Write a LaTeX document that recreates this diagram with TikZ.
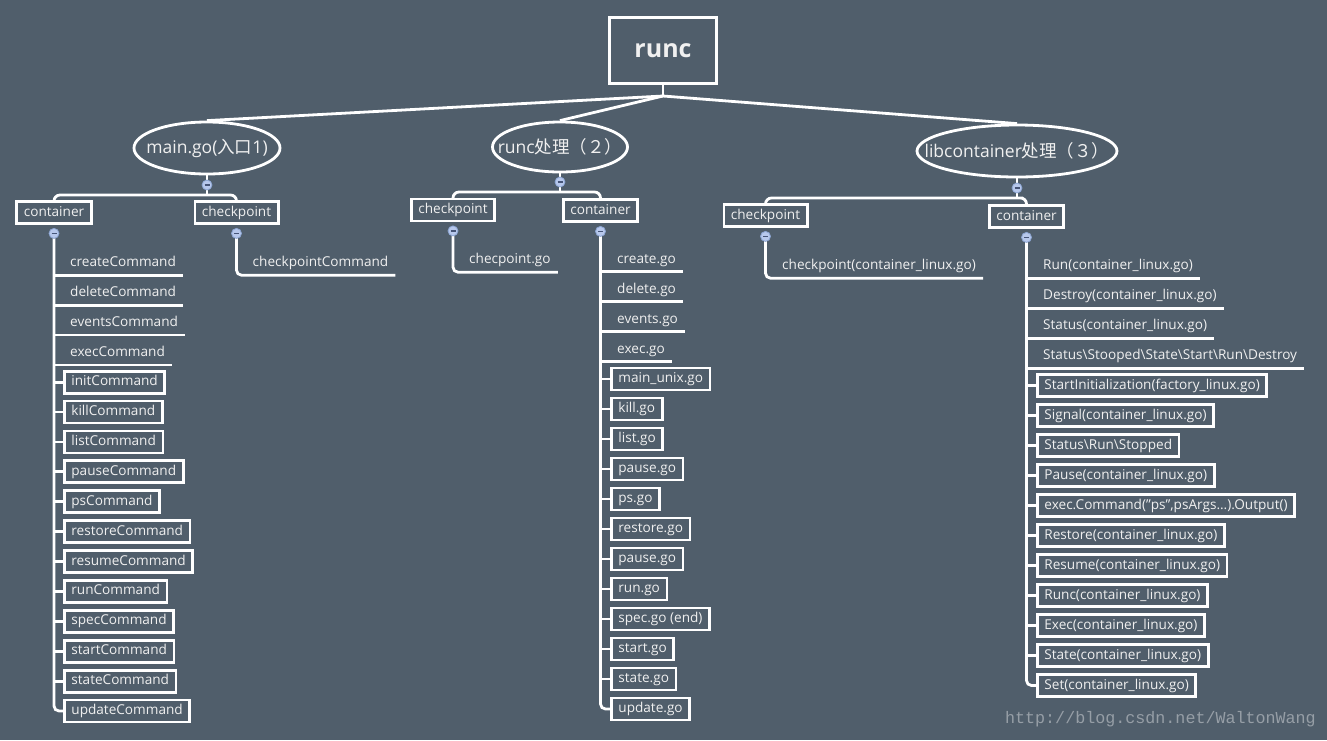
\documentclass[tikz,border=0pt]{standalone}
\usepackage{fontspec}
\setmainfont{Open Sans}
\newfontfamily\cjk{Noto Sans CJK SC}
\newfontfamily\wmfont{Liberation Mono}
\usetikzlibrary{shapes.geometric}
\definecolor{bg}{RGB}{80,94,107}
\definecolor{mfill}{RGB}{183,200,236}
\definecolor{mdraw}{RGB}{140,165,210}
\definecolor{mminus}{RGB}{70,85,120}
\definecolor{txt}{RGB}{240,240,240}
\definecolor{wm}{RGB}{150,158,166}
\newcommand\mydots{.{}.{}.}
\newcommand\dq{{\char34}}
\begin{document}
\begin{tikzpicture}[x=1pt,y=-1pt,
 conn/.style={draw=white, line width=2.8pt},
 itemfont/.style={font=\fontsize{13.6}{16}\selectfont, text=txt, text height=10pt, text depth=3pt},
 boxitem/.style={itemfont, draw=white, line width=2.8pt, inner xsep=7pt, inner ysep=4.5pt, anchor=west},
 ulitem/.style={itemfont, inner xsep=7pt, inner ysep=5.5pt, anchor=west},
 topic/.style={boxitem, anchor=center},
 ell/.style={ellipse, draw=white, line width=2.8pt, inner sep=0pt, text=txt, font=\fontsize{17.5}{20}\selectfont},
 marker/.style={circle, fill=mfill, draw=mdraw, line width=0.8pt, minimum size=10pt, inner sep=0pt,
   path picture={\draw[mminus, line width=1.3pt] ([xshift=-2.5pt]path picture bounding box.center) -- ([xshift=2.5pt]path picture bounding box.center);}},
]
\fill[bg] (0,0) rectangle (1327,740);
\useasboundingbox (0,0) rectangle (1327,740);

% root
\node[draw=white, line width=2.8pt, minimum width=107pt, minimum height=66pt, text=txt,
      font=\bfseries\fontsize{25}{28}\selectfont] (root) at (663,50.5) {runc};
\coordinate (rh) at (663,96);

% main topics
\node[ell, minimum width=146pt, minimum height=52pt] (e1) at (207,148) {\makebox[0pt]{main.go({\cjk 入口}1)}};
\node[ell, minimum width=135pt, minimum height=50pt] (e2) at (560,147) {\makebox[0pt]{runc{\cjk 处理（２）}}};
\node[ell, minimum width=200pt, minimum height=52pt] (e3) at (1017,151) {\makebox[0pt]{libcontainer{\cjk 处理（３）}}};

\draw[conn] (root.south) -- (rh);
\draw[conn] (rh) -- (e1.north);
\draw[conn] (rh) -- (e2.north);
\draw[conn] (rh) -- (e3.north);

\coordinate (h1) at (207,195);
\coordinate (h2) at (560,192);
\coordinate (h3) at (1017,198);

% sub topics
\node[topic] (L1c) at (54,212.5) {container};
\node[topic] (L1k) at (236.5,212.5) {checkpoint};
\node[topic] (M1k) at (453,210) {checkpoint};
\node[topic] (M1c) at (600.5,210.5) {container};
\node[topic] (R1k) at (765.5,215.5) {checkpoint};
\node[topic] (R1c) at (1026.5,216.5) {container};

\draw[conn] (e1.south) -- (h1);
\draw[conn] (e2.south) -- (h2);
\draw[conn] (e3.south) -- (h3);
\draw[conn, rounded corners=6pt] (L1c.north) |- (h1) -| (L1k.north);
\draw[conn, rounded corners=6pt] (M1k.north) |- (h2) -| (M1c.north);
\draw[conn, rounded corners=6pt] (R1k.north) |- (h3) -| (R1c.north);

% markers
\node[marker] (m1) at (207,185) {};
\node[marker] (m2) at (560,182) {};
\node[marker] (m3) at (1017,188) {};
\coordinate (mL1c) at ([yshift=-8.5pt]L1c.south);
\coordinate (mL1k) at ([yshift=-8.5pt]L1k.south);
\coordinate (mM1k) at ([yshift=-8.5pt]M1k.south);
\coordinate (mM1c) at ([yshift=-8.5pt]M1c.south);
\coordinate (mR1k) at ([yshift=-8.5pt]R1k.south);
\coordinate (mR1c) at ([yshift=-8.5pt]R1c.south);

% ---------- left column
\node[ulitem] (Lk0) at (245.5,263) {checkpointCommand};
\draw[conn, rounded corners=5pt] (mL1k) |- (Lk0.south east);

\foreach \t [count=\i from 0] in {createCommand,deleteCommand,eventsCommand,execCommand}
  \node[ulitem] (L\i) at (63,{263+29.9*\i}) {\t};
\foreach \t [count=\i from 4] in {initCommand,killCommand,listCommand,pauseCommand,psCommand,restoreCommand,resumeCommand,runCommand,specCommand,startCommand,stateCommand,updateCommand}
  \node[boxitem] (L\i) at (63,{262.5+29.9*\i}) {\t};
\foreach \i in {0,1,2,3} \draw[conn] (mL1c |- L\i.south) -- (L\i.south east);
\foreach \i in {4,5,6,7,8,9,10,11,12,13,14} \draw[conn] (mL1c |- L\i.west) -- (L\i.west);
\draw[conn, rounded corners=5pt] (mL1c) |- (L15.west);

% ---------- middle column
\node[ulitem] (Mk0) at (462,260) {checpoint.go};
\draw[conn, rounded corners=5pt] (mM1k) |- (Mk0.south east);

\foreach \t [count=\i from 0] in {create.go,delete.go,events.go,exec.go}
  \node[ulitem] (M\i) at (610,{259.5+30*\i}) {\t};
\foreach \t [count=\i from 4] in {main\_unix.go,kill.go,list.go,pause.go,ps.go,restore.go,pause.go,run.go,spec.go (end),start.go,state.go,update.go}
  \node[boxitem] (M\i) at (610,{259+30*\i}) {\t};
\foreach \i in {0,1,2,3} \draw[conn] (mM1c |- M\i.south) -- (M\i.south east);
\foreach \i in {4,5,6,7,8,9,10,11,12,13,14} \draw[conn] (mM1c |- M\i.west) -- (M\i.west);
\draw[conn, rounded corners=5pt] (mM1c) |- (M15.west);

% ---------- right column
\node[ulitem] (Rk0) at (775,266) {checkpoint(container\_linux.go)};
\draw[conn, rounded corners=5pt] (mR1k) |- (Rk0.south east);

\foreach \t [count=\i from 0] in {Run(container\_linux.go),Destroy(container\_linux.go),Status(container\_linux.go),Status\textbackslash Stooped\textbackslash State\textbackslash Start\textbackslash Run\textbackslash Destroy}
  \node[ulitem] (R\i) at (1036,{266+30*\i}) {\t};
\foreach \t [count=\i from 4] in {StartInitialization(factory\_linux.go),Signal(container\_linux.go),Status\textbackslash Run\textbackslash Stopped,Pause(container\_linux.go),{exec.Command(\dq ps\dq,psArgs\mydots).Output()},Restore(container\_linux.go),Resume(container\_linux.go),Runc(container\_linux.go),Exec(container\_linux.go),State(container\_linux.go),Set(container\_linux.go)}
  \node[boxitem] (R\i) at (1036,{265.5+30*\i}) {\t};
\foreach \i in {0,1,2,3} \draw[conn] (mR1c |- R\i.south) -- (R\i.south east);
\foreach \i in {4,5,6,7,8,9,10,11,12,13} \draw[conn] (mR1c |- R\i.west) -- (R\i.west);
\draw[conn, rounded corners=5pt] (mR1c) |- (R14.west);

% sub-topic markers (on top of lines)
\foreach \m in {mL1c,mL1k,mM1k,mM1c,mR1k,mR1c}
  \node[marker] (k\m) at (\m) {};

% watermark
\node[font=\wmfont\fontsize{16.7}{17}\selectfont, text=wm, anchor=east, inner sep=0pt] (wmk) at (1316,719) {http://blog.csdn.net/WaltonWang};
\end{tikzpicture}
\end{document}
